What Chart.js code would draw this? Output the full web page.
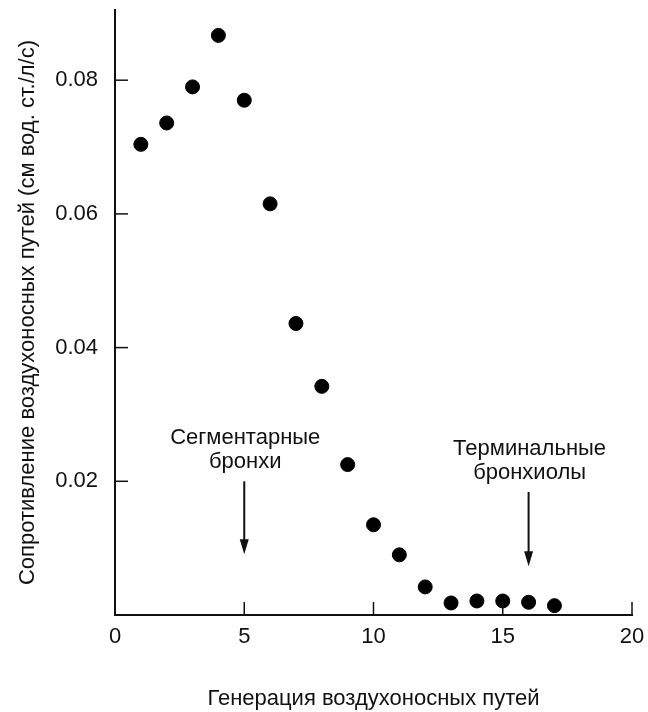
<!DOCTYPE html>
<html>
<head>
<meta charset="utf-8">
<script src="https://cdn.jsdelivr.net/npm/chart.js@4"></script>
<style>
  html, body { margin: 0; padding: 0; background: #fff; }
  #wrap { width: 648px; height: 712px; }
</style>
</head>
<body>
<div id="wrap"><canvas id="resChart"></canvas></div>
<script>
// airway generation vs airway resistance
const generations = [1, 2, 3, 4, 5, 6, 7, 8, 9, 10, 11, 12, 13, 14, 15, 16, 17];
const resistance = [0.0704, 0.0736, 0.0790, 0.0867, 0.0770, 0.0615, 0.0436, 0.0342,
  0.0225, 0.0135, 0.0090, 0.0042, 0.0018, 0.0021, 0.0021, 0.0019, 0.0014];
const xTicks = [0, 5, 10, 15, 20];
const yTicks = [0.02, 0.04, 0.06, 0.08];

// labelled arrows: x = generation, from/to = resistance
const arrowNotes = [
  { x: 5, from: 0.0200, to: 0.0091, lines: ["Сегментарные", "бронхи"] },
  { x: 16, from: 0.0184, to: 0.0073, lines: ["Терминальные", "бронхиолы"] },
];

const FONT = "'Liberation Sans', Arial, Helvetica, sans-serif";

const extras = {
  id: "extras",
  afterDatasetsDraw(chart) {
    const { ctx, scales: { x, y }, chartArea } = chart;
    ctx.save();
    ctx.strokeStyle = "#111";
    ctx.fillStyle = "#111";
    ctx.lineWidth = 1.5;
    // inward tick marks
    yTicks.forEach((v) => {
      const py = y.getPixelForValue(v);
      ctx.beginPath();
      ctx.moveTo(chartArea.left, py);
      ctx.lineTo(chartArea.left + 13, py);
      ctx.stroke();
    });
    xTicks.slice(1).forEach((v) => {
      const px = x.getPixelForValue(v);
      ctx.beginPath();
      ctx.moveTo(px, chartArea.bottom);
      ctx.lineTo(px, chartArea.bottom - 13);
      ctx.stroke();
    });
    // arrows and their captions
    ctx.font = "22px " + FONT;
    ctx.textAlign = "center";
    ctx.textBaseline = "middle";
    arrowNotes.forEach((n) => {
      const px = x.getPixelForValue(n.x);
      const y0 = y.getPixelForValue(n.from);
      const y1 = y.getPixelForValue(n.to);
      ctx.lineWidth = 2;
      ctx.beginPath();
      ctx.moveTo(px, y0);
      ctx.lineTo(px, y1 - 10);
      ctx.stroke();
      ctx.beginPath();
      ctx.moveTo(px - 4.5, y1 - 15);
      ctx.lineTo(px + 4.5, y1 - 15);
      ctx.lineTo(px, y1);
      ctx.closePath();
      ctx.fill();
      n.lines.forEach((t, i) => {
        ctx.fillText(t, px + 1, y0 - 43 + i * 24);
      });
    });
    ctx.restore();
  },
};

new Chart(document.getElementById("resChart"), {
  type: "scatter",
  data: {
    datasets: [
      {
        data: generations.map((g, i) => ({ x: g, y: resistance[i] })),
        backgroundColor: "#000",
        borderColor: "#000",
        pointRadius: 7,
        pointHoverRadius: 7,
      },
    ],
  },
  options: {
    responsive: true,
    maintainAspectRatio: false,
    animation: false,
    layout: { padding: { top: 10, right: 16, bottom: 0, left: 0 } },
    plugins: { legend: { display: false }, tooltip: { enabled: false } },
    scales: {
      x: {
        type: "linear",
        min: 0,
        max: 20,
        afterFit: (s) => {
          s.height = 97;
          s.paddingLeft = 0;
          s.paddingRight = 0;
        },
        grid: { display: true, drawOnChartArea: false, drawTicks: false },
        border: { display: true, color: "#111", width: 2 },
        ticks: {
          stepSize: 5,
          padding: 9,
          color: "#111",
          font: { family: FONT, size: 22 },
        },
        title: {
          display: true,
          text: "Генерация воздухоносных путей",
          color: "#111",
          font: { family: FONT, size: 22 },
          padding: { top: 0, bottom: 0 },
        },
      },
      y: {
        type: "linear",
        min: 0,
        max: 0.0905,
        afterFit: (s) => {
          s.width = 115;
          s.paddingTop = 0;
          s.paddingBottom = 0;
        },
        grid: { display: true, drawOnChartArea: false, drawTicks: false },
        border: { display: true, color: "#111", width: 2 },
        ticks: {
          stepSize: 0.02,
          includeBounds: false,
          padding: 17,
          color: "#111",
          font: { family: FONT, size: 22 },
          callback: (v) => (yTicks.some((t) => Math.abs(t - v) < 1e-9) ? v.toFixed(2) : ""),
        },
        title: {
          display: true,
          text: "Сопротивление воздухоносных путей (см вод. ст./л/с)",
          color: "#111",
          font: { family: FONT, size: 22 },
          padding: { top: 15, bottom: 0 },
        },
      },
    },
  },
  plugins: [extras],
});
</script>
</body>
</html>
